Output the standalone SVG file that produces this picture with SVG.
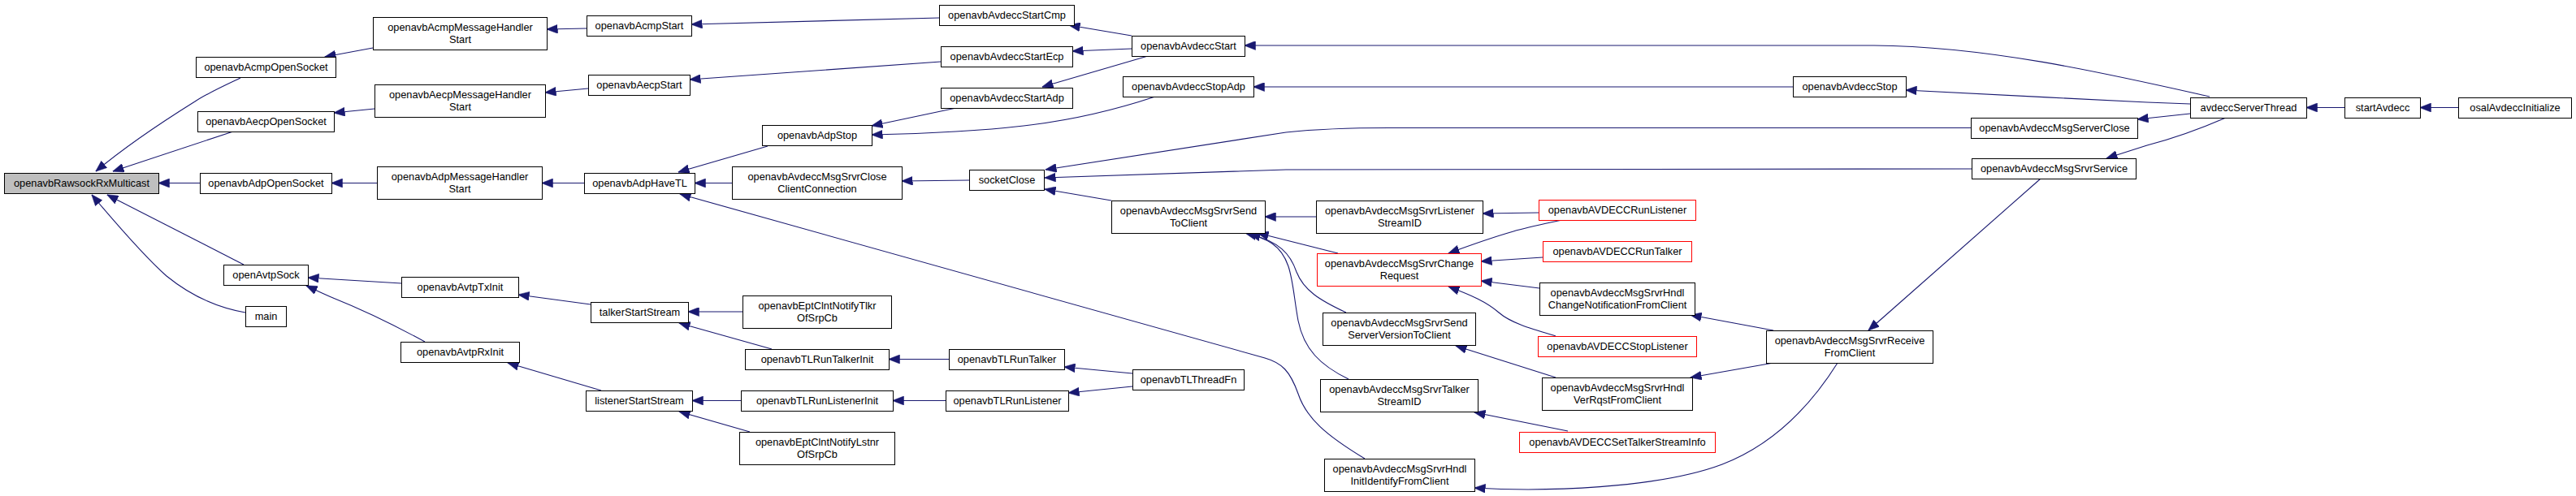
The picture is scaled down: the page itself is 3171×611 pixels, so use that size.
<svg xmlns="http://www.w3.org/2000/svg" width="3171" height="611" viewBox="0 0 3171 611">
<defs>
<style>
.n rect{fill:#fff;stroke:#000;stroke-width:1}
.n.r rect{stroke:#f00}
.n.g rect{fill:#bfbfbf}
text{font-family:"Liberation Sans",Arial,Helvetica,sans-serif;font-size:12.8px;fill:#000;text-anchor:middle}
.e path{fill:none;stroke:#191970;stroke-width:1.1;marker-end:url(#a)}
</style>
<marker id="a" markerUnits="userSpaceOnUse" markerWidth="14" markerHeight="11" viewBox="0 0 14 11" refX="13.5" refY="5.5" orient="auto"><path d="M0,0 L14,5.5 L0,11 z" fill="#191970" stroke="#191970" stroke-width="0.5"/></marker>
</defs>
<rect width="3171" height="611" fill="#fff"/>
<g class="e" id="edges">
<path d="M296,96 C275,106 255,115 240,125 C200,150 155,180 118,211"/>
<path d="M287,162 L139,211"/>
<path d="M246,225.5 L195,225.5"/>
<path d="M300,326 L132,240"/>
<path d="M302,385 C262,378 232,362 205,340 C180,318 140,272 113,240"/>
<path d="M459,59 L400,70"/>
<path d="M461,134 L411,139"/>
<path d="M464,225.5 L408,225.5"/>
<path d="M494,349 L379,342"/>
<path d="M523,421 C490,403 450,383 410,367 C398,362 388,357 377,352"/>
<path d="M722,35 L673,36"/>
<path d="M724,109 L671,114"/>
<path d="M719,225.5 L667,225.5"/>
<path d="M727,375 L638,363"/>
<path d="M740,481 L625,447"/>
<path d="M1156,22 L851,30"/>
<path d="M1158,76 L849,98"/>
<path d="M945,180 L835,212"/>
<path d="M901,225.5 L855,225.5"/>
<path d="M1680,565 C1632,536 1608,515 1598,485 C1588,457 1578,447 1557,441 L837,239"/>
<path d="M1193,222 L1110,223"/>
<path d="M1177,133 L1073,155"/>
<path d="M1422,119 C1380,133 1330,147 1260,155 C1200,162 1120,165 1073,166"/>
<path d="M1393,44 L1316,31"/>
<path d="M1393,60 L1320,63"/>
<path d="M1413,69 L1283,107"/>
<path d="M2426,157.5 L1710,157.5 C1670,157.5 1620,159 1583,163 L1287,209"/>
<path d="M2427,208 L1583,209 L1286,219"/>
<path d="M1368,247 L1286,233"/>
<path d="M1620,267 L1557,267"/>
<path d="M1647,312 L1548,287"/>
<path d="M1657,385 C1625,370 1605,358 1596,335 C1588,312 1575,298 1538,288"/>
<path d="M1660,467 C1625,450 1605,430 1598,395 C1590,352 1592,318 1566,300 C1557,294 1545,290 1533,287"/>
<path d="M1894,262 L1825,263"/>
<path d="M1923,271 C1900,276 1880,280 1863,285 C1835,293 1810,302 1783,312"/>
<path d="M1899,317 L1823,322"/>
<path d="M1895,355 L1823,346"/>
<path d="M1915,414 C1885,405 1860,398 1845,385 C1830,372 1812,364 1783,353"/>
<path d="M1915,465 L1792,426"/>
<path d="M1930,531 L1815,508"/>
<path d="M2183,407 L2081,388"/>
<path d="M2183,447 L2081,465"/>
<path d="M2262,447 C2235,490 2190,545 2120,572 C2040,602 1900,606 1815,601"/>
<path d="M2512,220 L2300,407"/>
<path d="M2720,119 C2600,92 2450,57 2307,56 L1532,56"/>
<path d="M2696,128 L2643,126 C2550,122 2420,114 2346,111"/>
<path d="M2207,107 L1543,107"/>
<path d="M2696,140 L2631,147"/>
<path d="M2740,145 C2710,158 2670,172 2643,179 L2593,195"/>
<path d="M2886,132.5 L2839,132.5"/>
<path d="M3026,132.5 L2979,132.5"/>
<path d="M914,384 L847,384"/>
<path d="M950,430 L836,398"/>
<path d="M912,493.5 L852,493.5"/>
<path d="M923,532 L836,507"/>
<path d="M1168,442.5 L1094,442.5"/>
<path d="M1164,493.5 L1099,493.5"/>
<path d="M1394,460 L1310,452"/>
<path d="M1394,476 L1315,484"/>
</g>
<g id="n0" class="n g"><rect x="5.5" y="213.5" width="190" height="25"/><text x="100.5" y="230">openavbRawsockRxMulticast</text></g>
<g id="n1" class="n"><rect x="241.5" y="70.5" width="172" height="25"/><text x="327.5" y="87">openavbAcmpOpenSocket</text></g>
<g id="n2" class="n"><rect x="243.5" y="137.5" width="168" height="25"/><text x="327.5" y="154">openavbAecpOpenSocket</text></g>
<g id="n3" class="n"><rect x="246.5" y="213.5" width="162" height="25"/><text x="327.5" y="230">openavbAdpOpenSocket</text></g>
<g id="n4" class="n"><rect x="275.5" y="326.5" width="104" height="25"/><text x="327.5" y="343">openAvtpSock</text></g>
<g id="n5" class="n"><rect x="302.5" y="377.5" width="50" height="25"/><text x="327.5" y="394">main</text></g>
<g id="n6" class="n"><rect x="459.5" y="21.5" width="214" height="40"/><text x="566.5" y="38">openavbAcmpMessageHandler</text><text x="566.5" y="52.6">Start</text></g>
<g id="n7" class="n"><rect x="461.5" y="104.5" width="210" height="40"/><text x="566.5" y="121">openavbAecpMessageHandler</text><text x="566.5" y="135.6">Start</text></g>
<g id="n8" class="n"><rect x="464.5" y="205.5" width="203" height="40"/><text x="566" y="222">openavbAdpMessageHandler</text><text x="566" y="236.6">Start</text></g>
<g id="n9" class="n"><rect x="494.5" y="341.5" width="144" height="25"/><text x="566.5" y="358">openavbAvtpTxInit</text></g>
<g id="n10" class="n"><rect x="493.5" y="421.5" width="146" height="25"/><text x="566.5" y="438">openavbAvtpRxInit</text></g>
<g id="n11" class="n"><rect x="722.5" y="19.5" width="129" height="25"/><text x="787" y="36">openavbAcmpStart</text></g>
<g id="n12" class="n"><rect x="724.5" y="92.5" width="125" height="25"/><text x="787" y="109">openavbAecpStart</text></g>
<g id="n13" class="n"><rect x="719.5" y="213.5" width="136" height="25"/><text x="787.5" y="230">openavbAdpHaveTL</text></g>
<g id="n14" class="n"><rect x="727.5" y="372.5" width="120" height="25"/><text x="787.5" y="389">talkerStartStream</text></g>
<g id="n15" class="n"><rect x="721.5" y="481.5" width="131" height="25"/><text x="787" y="498">listenerStartStream</text></g>
<g id="n16" class="n"><rect x="938.5" y="154.5" width="135" height="25"/><text x="1006" y="171">openavbAdpStop</text></g>
<g id="n17" class="n"><rect x="901.5" y="205.5" width="209" height="40"/><text x="1006" y="222">openavbAvdeccMsgSrvrClose</text><text x="1006" y="236.6">ClientConnection</text></g>
<g id="n18" class="n"><rect x="914.5" y="364.5" width="183" height="40"/><text x="1006" y="381">openavbEptClntNotifyTlkr</text><text x="1006" y="395.6">OfSrpCb</text></g>
<g id="n19" class="n"><rect x="917.5" y="430.5" width="177" height="25"/><text x="1006" y="447">openavbTLRunTalkerInit</text></g>
<g id="n20" class="n"><rect x="912.5" y="481.5" width="187" height="25"/><text x="1006" y="498">openavbTLRunListenerInit</text></g>
<g id="n21" class="n"><rect x="910.5" y="532.5" width="191" height="40"/><text x="1006" y="549">openavbEptClntNotifyLstnr</text><text x="1006" y="563.6">OfSrpCb</text></g>
<g id="n22" class="n"><rect x="1156.5" y="6.5" width="166" height="25"/><text x="1239.5" y="23">openavbAvdeccStartCmp</text></g>
<g id="n23" class="n"><rect x="1158.5" y="57.5" width="162" height="25"/><text x="1239.5" y="74">openavbAvdeccStartEcp</text></g>
<g id="n24" class="n"><rect x="1158.5" y="108.5" width="162" height="25"/><text x="1239.5" y="125">openavbAvdeccStartAdp</text></g>
<g id="n25" class="n"><rect x="1393.5" y="44.5" width="139" height="25"/><text x="1463" y="61">openavbAvdeccStart</text></g>
<g id="n26" class="n"><rect x="1382.5" y="94.5" width="161" height="25"/><text x="1463" y="111">openavbAvdeccStopAdp</text></g>
<g id="n27" class="n"><rect x="1193.5" y="209.5" width="92" height="25"/><text x="1239.5" y="226">socketClose</text></g>
<g id="n28" class="n"><rect x="1368.5" y="247.5" width="189" height="40"/><text x="1463" y="264">openavbAvdeccMsgSrvrSend</text><text x="1463" y="278.6">ToClient</text></g>
<g id="n29" class="n"><rect x="1168.5" y="430.5" width="142" height="25"/><text x="1239.5" y="447">openavbTLRunTalker</text></g>
<g id="n30" class="n"><rect x="1164.5" y="481.5" width="151" height="25"/><text x="1240" y="498">openavbTLRunListener</text></g>
<g id="n31" class="n"><rect x="1394.5" y="455.5" width="137" height="25"/><text x="1463" y="472">openavbTLThreadFn</text></g>
<g id="n32" class="n"><rect x="1620.5" y="247.5" width="205" height="40"/><text x="1723" y="264">openavbAvdeccMsgSrvrListener</text><text x="1723" y="278.6">StreamID</text></g>
<g id="n33" class="n r"><rect x="1894.5" y="246.5" width="193" height="25"/><text x="1991" y="263">openavbAVDECCRunListener</text></g>
<g id="n34" class="n r"><rect x="1899.5" y="297.5" width="183" height="25"/><text x="1991" y="314">openavbAVDECCRunTalker</text></g>
<g id="n35" class="n r"><rect x="1621.5" y="312.5" width="202" height="40"/><text x="1722.5" y="329">openavbAvdeccMsgSrvrChange</text><text x="1722.5" y="343.6">Request</text></g>
<g id="n36" class="n"><rect x="1895.5" y="348.5" width="191" height="40"/><text x="1991" y="365">openavbAvdeccMsgSrvrHndl</text><text x="1991" y="379.6">ChangeNotificationFromClient</text></g>
<g id="n37" class="n r"><rect x="1893.5" y="414.5" width="195" height="25"/><text x="1991" y="431">openavbAVDECCStopListener</text></g>
<g id="n38" class="n"><rect x="1628.5" y="385.5" width="188" height="40"/><text x="1722.5" y="402">openavbAvdeccMsgSrvrSend</text><text x="1722.5" y="416.6">ServerVersionToClient</text></g>
<g id="n39" class="n"><rect x="1898.5" y="465.5" width="185" height="40"/><text x="1991" y="482">openavbAvdeccMsgSrvrHndl</text><text x="1991" y="496.6">VerRqstFromClient</text></g>
<g id="n40" class="n"><rect x="1625.5" y="467.5" width="194" height="40"/><text x="1722.5" y="484">openavbAvdeccMsgSrvrTalker</text><text x="1722.5" y="498.6">StreamID</text></g>
<g id="n41" class="n r"><rect x="1870.5" y="532.5" width="241" height="25"/><text x="1991" y="549">openavbAVDECCSetTalkerStreamInfo</text></g>
<g id="n42" class="n"><rect x="1630.5" y="565.5" width="185" height="40"/><text x="1723" y="582">openavbAvdeccMsgSrvrHndl</text><text x="1723" y="596.6">InitIdentifyFromClient</text></g>
<g id="n43" class="n"><rect x="2207.5" y="94.5" width="139" height="25"/><text x="2277" y="111">openavbAvdeccStop</text></g>
<g id="n44" class="n"><rect x="2426.5" y="145.5" width="205" height="25"/><text x="2529" y="162">openavbAvdeccMsgServerClose</text></g>
<g id="n45" class="n"><rect x="2427.5" y="195.5" width="202" height="25"/><text x="2528.5" y="212">openavbAvdeccMsgSrvrService</text></g>
<g id="n46" class="n"><rect x="2174.5" y="407.5" width="205" height="40"/><text x="2277" y="424">openavbAvdeccMsgSrvrReceive</text><text x="2277" y="438.6">FromClient</text></g>
<g id="n47" class="n"><rect x="2696.5" y="120.5" width="143" height="25"/><text x="2768" y="137">avdeccServerThread</text></g>
<g id="n48" class="n"><rect x="2886.5" y="120.5" width="93" height="25"/><text x="2933" y="137">startAvdecc</text></g>
<g id="n49" class="n"><rect x="3026.5" y="120.5" width="139" height="25"/><text x="3096" y="137">osalAvdeccInitialize</text></g>
</svg>
